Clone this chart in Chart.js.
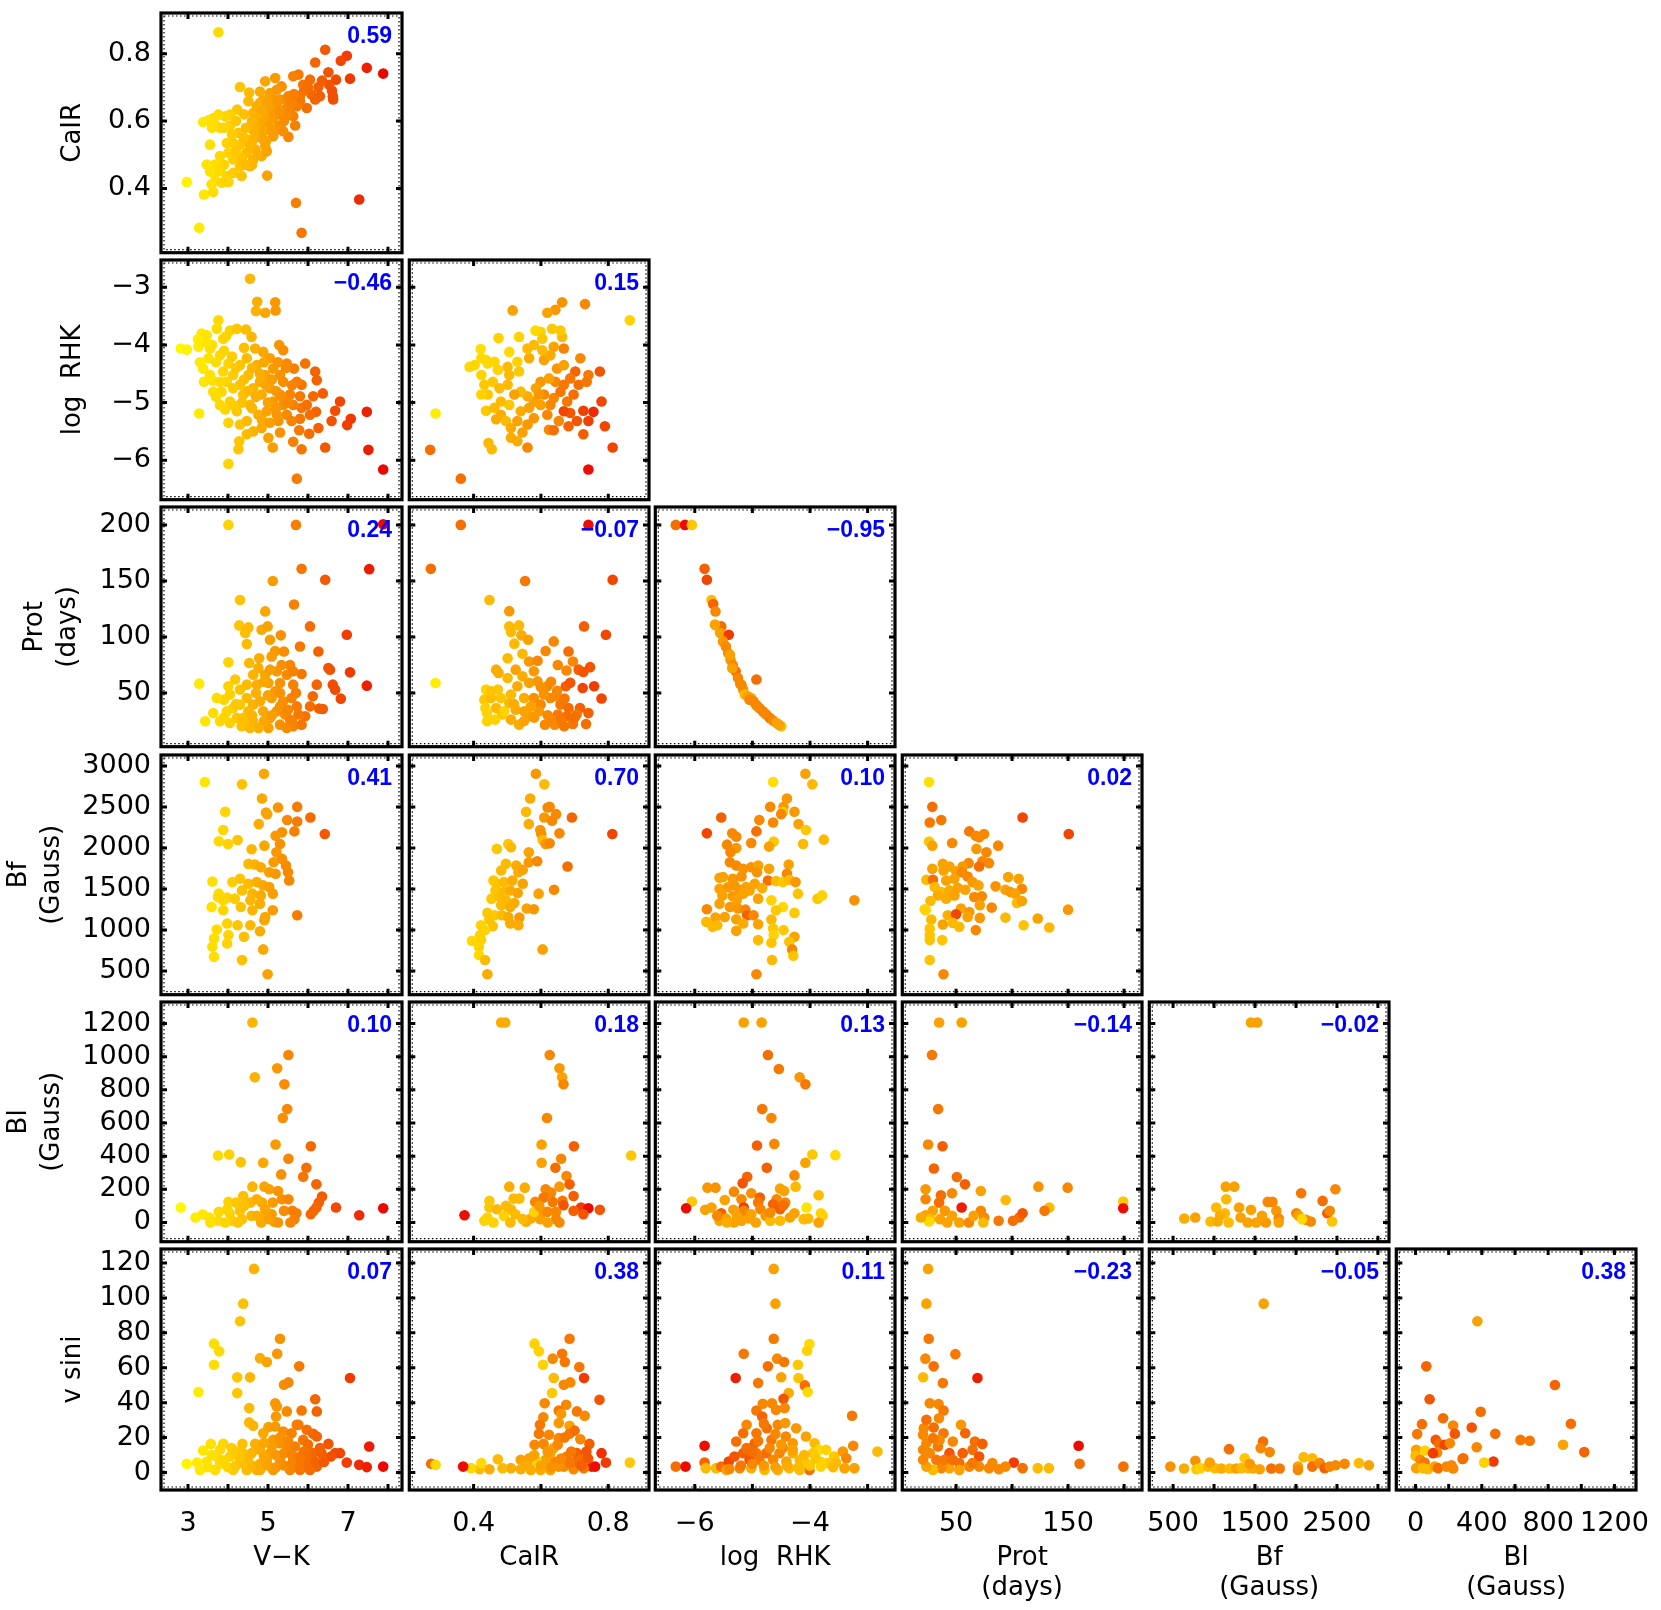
<!DOCTYPE html>
<html>
<head>
<meta charset="utf-8">
<script src="https://cdn.jsdelivr.net/npm/chart.js@4.4.1/dist/chart.umd.min.js"></script>
<style>
  body { margin: 0; background: #fff; }
  #wrap { position: relative; width: 1661px; height: 1610px; overflow: hidden; }
  #wrap canvas { position: absolute; }
</style>
</head>
<body>
<div id="wrap"></div>
<script>
// Axis tick positions (frame marks) and labelled ticks
const vkTicks = [3, 4, 5, 6, 7, 8];
const vkLabels = [3, 5, 7];
const cairTicks = [0.4, 0.6, 0.8];
const cairXLabels = [0.4, 0.8];
const cairYLabels = [0.4, 0.6, 0.8];
const rhkTicks = [-6, -5, -4, -3];
const rhkXLabels = [-6, -4];
const rhkYLabels = [-6, -5, -4, -3];
const protTicks = [50, 100, 150, 200];
const protXLabels = [50, 150];
const protYLabels = [50, 100, 150, 200];
const bfTicks = [500, 1000, 1500, 2000, 2500, 3000];
const bfXLabels = [500, 1500, 2500];
const bfYLabels = [500, 1000, 1500, 2000, 2500, 3000];
const blTicks = [0, 200, 400, 600, 800, 1000, 1200];
const blXLabels = [0, 400, 800, 1200];
const blYLabels = [0, 200, 400, 600, 800, 1000, 1200];
const vsiniTicks = [0, 20, 40, 60, 80, 100, 120];

// Correlation coefficients, one row per panel row
const coefRows = [
  ['0.59'],
  ['\u22120.46', '0.15'],
  ['0.24', '\u22120.07', '\u22120.95'],
  ['0.41', '0.70', '0.10', '0.02'],
  ['0.10', '0.18', '0.13', '\u22120.14', '\u22120.02'],
  ['0.07', '0.38', '0.11', '\u22120.23', '\u22120.05', '0.38']
];

// Points: [x, y] when x is V-K (colour = V-K), else [x, y, colour V-K]
const vk_cair = [[3.76,0.864],[2.97,0.419],[3.28,0.283],[3.40,0.382],[4.98,0.438],[5.70,0.357],[5.84,0.268],[7.28,0.367],[6.43,0.812],[7.47,0.758],[7.88,0.741],[6.97,0.794],[6.82,0.779],[7.05,0.726],[6.70,0.723],[6.51,0.745],[6.18,0.774],[6.62,0.674],[6.63,0.664],[6.53,0.708],[6.26,0.701],[6.09,0.679],[6.18,0.664],[5.88,0.708],[5.76,0.738],[5.63,0.733],[5.97,0.639],[5.80,0.659],[5.63,0.614],[5.68,0.587],[5.51,0.553],[5.18,0.728],[4.93,0.718],[4.30,0.701],[4.53,0.685],[4.80,0.688],[5.05,0.683],[5.34,0.703],[5.43,0.664],[5.22,0.644],[4.80,0.654],[4.63,0.624],[4.51,0.659],[4.23,0.634],[4.05,0.619],[3.93,0.614],[3.76,0.619],[3.63,0.609],[3.51,0.602],[3.38,0.597],[3.68,0.590],[3.80,0.580],[4.05,0.587],[4.26,0.565],[3.97,0.535],[3.55,0.530],[4.30,0.530],[4.57,0.580],[4.78,0.555],[4.97,0.580],[5.13,0.604],[5.30,0.585],[5.13,0.555],[4.93,0.525],[4.68,0.516],[4.47,0.506],[4.63,0.486],[4.55,0.466],[4.30,0.466],[4.13,0.486],[4.01,0.506],[3.80,0.496],[3.68,0.471],[3.47,0.471],[3.63,0.446],[3.80,0.456],[3.97,0.437],[4.13,0.446],[4.34,0.437],[3.68,0.422],[3.85,0.417],[4.01,0.419],[3.59,0.412],[3.63,0.389],[4.84,0.496],[4.97,0.510],[4.88,0.545],[5.05,0.634],[5.30,0.664],[5.51,0.674],[5.47,0.639],[5.34,0.619],[4.97,0.614],[4.72,0.604],[4.47,0.545],[4.63,0.545],[4.13,0.535],[5.22,0.575],[5.38,0.570],[5.55,0.624],[5.72,0.644],[5.80,0.674],[6.30,0.674],[6.05,0.723],[5.13,0.664],[4.88,0.664],[4.72,0.644],[5.22,0.693],[4.60,0.600],[4.75,0.580],[4.90,0.600],[5.05,0.590],[5.15,0.620],[4.85,0.630],[4.65,0.570],[4.45,0.580],[4.40,0.550],[4.55,0.530],[4.75,0.500],[4.90,0.570],[5.00,0.655],[5.25,0.660],[5.40,0.600],[5.45,0.615],[5.60,0.655],[5.65,0.680],[4.40,0.620],[4.20,0.600],[4.10,0.560],[4.35,0.490],[4.20,0.510],[3.90,0.470],[3.75,0.450],[3.55,0.450],[3.90,0.580],[3.60,0.580],[5.90,0.690],[6.00,0.700],[6.35,0.720],[6.60,0.690],[5.30,0.630],[5.10,0.570],[4.95,0.540],[4.60,0.470],[4.45,0.470]];

const vk_rhk = [[4.55,-2.85],[4.73,-3.25],[4.70,-3.41],[4.93,-3.44],[5.18,-3.26],[5.19,-3.40],[2.82,-4.06],[2.97,-4.08],[3.28,-5.19],[4.01,-6.06],[5.72,-6.32],[7.88,-6.16],[7.51,-5.82],[7.47,-5.16],[7.07,-5.28],[6.98,-5.39],[6.80,-4.98],[6.68,-5.14],[6.59,-5.32],[6.43,-5.78],[6.26,-5.44],[6.03,-5.54],[6.20,-5.16],[6.37,-4.84],[6.13,-4.89],[6.22,-4.61],[6.18,-4.46],[5.93,-4.32],[5.84,-4.69],[5.65,-4.41],[5.72,-4.64],[5.80,-4.89],[5.84,-5.09],[5.80,-5.28],[5.78,-5.48],[5.63,-5.68],[5.84,-5.81],[5.12,-5.78],[5.28,-4.00],[5.38,-4.09],[5.47,-4.32],[5.30,-4.52],[5.55,-4.86],[5.38,-5.04],[5.26,-5.32],[5.30,-5.52],[5.01,-5.61],[4.84,-5.44],[4.76,-5.21],[4.68,-4.06],[4.88,-4.12],[5.05,-4.23],[5.13,-4.41],[4.93,-4.52],[4.72,-4.35],[4.47,-4.23],[4.30,-4.35],[4.51,-4.52],[4.63,-4.75],[4.84,-4.86],[5.05,-4.75],[5.13,-4.98],[4.97,-5.15],[4.55,-5.04],[4.38,-4.86],[4.30,-4.69],[4.13,-4.52],[3.97,-4.64],[3.84,-4.81],[4.05,-4.98],[4.22,-5.15],[4.30,-5.38],[4.47,-5.32],[4.63,-5.50],[4.47,-5.55],[4.28,-5.67],[4.26,-5.81],[4.01,-5.35],[3.93,-5.12],[3.80,-5.04],[3.63,-4.81],[3.40,-4.64],[3.62,-4.62],[3.38,-4.41],[3.51,-4.23],[3.26,-4.03],[3.34,-3.80],[3.47,-3.83],[3.76,-3.57],[3.72,-3.72],[3.88,-3.89],[4.05,-3.75],[4.22,-3.72],[4.45,-3.73],[4.59,-3.86],[3.55,-4.06],[3.80,-4.18],[4.01,-4.32],[3.88,-4.46],[3.55,-4.52],[3.80,-4.64],[5.47,-5.21],[5.59,-5.32],[6.05,-5.21],[5.97,-5.04],[5.63,-5.04],[5.30,-4.86],[5.38,-4.64],[5.22,-5.21],[4.80,-4.64],[4.13,-4.75],[4.60,-4.40],[4.80,-4.50],[4.95,-4.70],[5.10,-4.60],[5.20,-4.80],[5.00,-5.00],[4.70,-4.90],[4.50,-4.80],[4.40,-4.60],[4.60,-5.10],[4.85,-5.30],[5.05,-5.35],[5.20,-5.10],[5.35,-4.90],[5.45,-4.40],[5.50,-5.00],[5.60,-4.70],[4.20,-4.40],[4.10,-4.20],[3.90,-4.10],[3.70,-4.30],[3.60,-4.00],[3.45,-3.95],[3.70,-4.90],[4.35,-5.00],[4.15,-5.05],[4.90,-4.30],[5.25,-4.30],[3.95,-3.85],[4.40,-4.05],[3.30,-4.30],[3.25,-3.90]];

const cair_rhk = [[0.864,-3.57,4.0],[0.731,-3.29,5.5],[0.663,-3.26,5.3],[0.643,-3.39,5.2],[0.619,-3.44,5.0],[0.516,-3.40,5.0],[0.421,-4.07,3.6],[0.287,-5.19,3.2],[0.271,-5.82,6.0],[0.362,-6.32,6.0],[0.741,-6.16,7.8],[0.813,-5.78,6.8],[0.790,-5.41,6.8],[0.780,-4.98,6.8],[0.775,-4.46,6.5],[0.756,-5.16,7.3],[0.726,-5.14,6.9],[0.741,-5.32,6.9],[0.726,-5.55,6.3],[0.707,-5.32,6.5],[0.682,-5.41,6.2],[0.687,-5.18,6.5],[0.668,-5.15,6.8],[0.653,-5.32,5.5],[0.624,-5.47,5.5],[0.638,-5.48,6.0],[0.678,-4.98,5.8],[0.697,-4.86,6.0],[0.712,-4.69,6.0],[0.736,-4.64,5.8],[0.741,-4.52,5.8],[0.717,-4.23,5.5],[0.702,-4.46,6.2],[0.687,-4.58,5.8],[0.668,-4.06,5.6],[0.638,-4.03,5.0],[0.663,-3.86,4.5],[0.658,-3.75,4.2],[0.633,-3.72,4.2],[0.599,-3.77,4.0],[0.584,-3.75,3.8],[0.604,-3.89,4.2],[0.579,-4.00,4.5],[0.560,-4.06,4.5],[0.565,-4.23,4.8],[0.604,-4.09,4.5],[0.609,-4.26,5.0],[0.628,-4.18,4.8],[0.648,-4.41,5.2],[0.668,-4.35,5.0],[0.643,-4.64,5.5],[0.624,-4.58,5.0],[0.599,-4.64,5.2],[0.585,-4.75,5.0],[0.609,-4.86,5.5],[0.638,-4.92,5.5],[0.658,-4.81,5.8],[0.668,-4.69,5.8],[0.628,-5.04,5.5],[0.599,-5.04,5.0],[0.579,-4.98,5.0],[0.560,-4.89,4.8],[0.540,-4.81,4.5],[0.521,-4.86,5.0],[0.506,-5.04,4.2],[0.501,-4.69,4.5],[0.506,-4.52,4.5],[0.501,-4.38,4.5],[0.535,-4.46,4.2],[0.530,-4.29,4.0],[0.506,-4.12,3.8],[0.535,-3.86,4.0],[0.474,-3.88,4.0],[0.423,-4.23,3.8],[0.442,-4.32,3.8],[0.388,-4.38,3.8],[0.403,-4.35,3.9],[0.437,-4.26,3.8],[0.462,-4.29,3.9],[0.472,-4.43,4.0],[0.423,-4.52,4.0],[0.432,-4.69,4.2],[0.457,-4.64,4.2],[0.477,-4.75,4.5],[0.442,-4.86,4.2],[0.423,-4.86,4.0],[0.437,-5.14,4.2],[0.462,-5.09,4.5],[0.481,-4.98,4.5],[0.481,-5.21,4.8],[0.467,-5.29,4.8],[0.496,-5.32,4.5],[0.511,-5.44,4.8],[0.530,-5.32,5.0],[0.540,-5.15,4.8],[0.565,-5.09,5.0],[0.579,-5.27,5.2],[0.560,-5.38,5.2],[0.545,-5.52,5.0],[0.511,-5.61,4.8],[0.530,-5.67,4.8],[0.444,-5.70,4.5],[0.454,-5.81,4.5],[0.560,-5.78,5.5],[0.594,-4.86,5.2],[0.619,-5.21,5.5]];

const vk_prot = [[4.01,200],[5.70,200],[7.88,200.6],[7.53,160.5],[5.84,160.8],[6.43,151],[5.12,150],[4.30,133],[5.65,129],[4.93,122.8],[6.05,109.4],[4.28,110.3],[4.51,108.5],[4.43,103.4],[6.97,102],[4.84,106.4],[4.99,109.4],[5.32,101.4],[5.05,97.5],[4.47,93.6],[5.80,91.4],[6.26,87],[5.18,87.5],[5.40,87],[4.01,77.3],[4.53,76.7],[4.78,81],[5.09,82.6],[6.51,72.2],[6.55,70.7],[7.05,68.4],[5.84,66.9],[5.55,75],[7.47,56.5],[6.62,57.4],[6.68,52.9],[6.82,44.9],[6.22,57.4],[6.12,47],[6.05,38],[6.28,36],[6.37,35.7],[5.93,29.2],[5.84,21.7],[5.63,20.3],[3.28,58.3],[3.43,24.7],[3.63,32],[3.80,24.7],[3.90,44],[4.01,56],[4.05,48.5],[4.13,36.6],[4.22,27.7],[4.34,20.3],[4.30,53],[4.47,45.5],[4.51,33.6],[4.63,24.7],[4.76,18.8],[4.88,33.6],[4.72,57.4],[4.63,66.3],[4.76,72.2],[4.93,66.3],[5.01,58.9],[5.09,45.5],[5.22,33.6],[5.01,18.8],[5.30,21.7],[5.43,30.7],[5.38,42.5],[5.30,58.9],[5.47,66.3],[5.63,57.4],[5.59,45.5],[5.72,38],[5.63,69.3],[5.34,75],[5.22,69.3],[5.05,70.8],[4.63,39.6],[4.30,39.6],[3.97,33.6],[4.05,23.2],[4.55,18.8],[4.80,42.5],[4.38,27.7],[5.05,27.7],[5.55,26.2],[5.47,18.8],[5.76,30.7],[5.18,51.4],[4.47,57.4],[4.18,62],[3.72,45.5],[4.40,25],[4.60,30],[4.90,25],[5.10,30],[5.30,38],[5.50,35],[5.00,48],[4.70,50],[4.20,40],[3.90,28],[5.60,25],[5.70,50],[4.90,60],[5.30,50]];

const cair_prot = [[0.362,200,6.0],[0.741,200,7.8],[0.273,160.8,6.0],[0.553,150,5.8],[0.813,151,6.8],[0.447,133,4.5],[0.506,123,5.2],[0.728,109.4,6.3],[0.793,102,6.8],[0.287,58.9,3.2],[0.506,109.4,4.5],[0.535,110.3,4.5],[0.511,104.3,4.5],[0.542,101.4,4.8],[0.562,97.5,5.0],[0.521,94,4.5],[0.638,96,5.5],[0.614,87.5,5.5],[0.682,87,6.0],[0.545,85,4.5],[0.501,81,4.5],[0.695,78,5.5],[0.650,75,5.5],[0.676,70,5.5],[0.712,70.8,6.3],[0.746,73,6.5],[0.726,68.7,6.5],[0.467,70.8,4.8],[0.474,67.8,4.8],[0.525,70.8,5.0],[0.565,78,5.2],[0.590,78.8,5.5],[0.579,69.3,5.2],[0.545,64.8,4.8],[0.501,63.3,4.5],[0.437,53,4.0],[0.472,53,4.2],[0.432,44,4.2],[0.452,45.5,4.5],[0.481,45.5,4.3],[0.511,48.5,4.5],[0.530,56,4.8],[0.550,45.5,4.8],[0.565,59,5.0],[0.590,60.3,5.2],[0.619,56,5.5],[0.648,52,5.5],[0.674,56,6.3],[0.687,59,6.5],[0.724,54.4,6.8],[0.758,56,7.0],[0.780,45,6.8],[0.579,45.5,5.3],[0.599,39.6,5.5],[0.628,45.5,5.5],[0.658,39.6,5.8],[0.682,36.6,6.0],[0.716,36.6,6.3],[0.741,32,6.3],[0.734,22.3,6.0],[0.706,30.7,5.8],[0.677,29.2,6.0],[0.650,30.7,5.8],[0.631,26.2,5.5],[0.612,21.7,5.5],[0.641,21.7,5.5],[0.669,20.3,5.8],[0.695,22.3,5.8],[0.570,29.2,5.0],[0.535,21.7,4.8],[0.511,26.2,4.8],[0.484,30.7,4.2],[0.464,26.2,4.0],[0.440,24.7,4.0],[0.440,32,4.0],[0.435,36.6,4.0],[0.467,36.6,4.5],[0.491,33.6,4.0],[0.506,41,4.5],[0.525,35,4.8],[0.550,33.6,5.0],[0.594,33.6,5.2],[0.609,48.5,5.3],[0.645,47,5.5],[0.452,51.4,4.3],[0.550,25,5.0],[0.580,28,5.2],[0.620,30,5.5],[0.660,26,5.8],[0.700,28,6.0],[0.520,40,4.8],[0.570,38,5.0],[0.600,55,5.3],[0.630,60,5.5],[0.670,45,5.8]];

const rhk_prot = [[-6.33,200,6.0],[-6.17,200,7.8],[-6.05,200,4.2],[-5.83,160.8,6.3],[-5.79,151,6.8],[-5.71,133,4.5],[-5.68,129.3,6.2],[-5.64,122.8,5.5],[-5.63,110.3,4.5],[-5.54,109.4,6.0],[-5.56,103.4,5.0],[-5.41,102,7.0],[-5.51,96,5.2],[-5.46,91.4,5.5],[-5.42,85.6,5.5],[-5.38,79.7,5.2],[-5.34,75,5.5],[-5.29,69.3,6.0],[-5.25,63.3,5.5],[-5.21,58,5.5],[-5.16,53,5.3],[-4.93,62,6.0],[-5.13,48.5,4.5],[-5.08,47,5.0],[-5.02,45.5,4.8],[-4.98,42.5,5.5],[-4.94,39.6,5.5],[-4.88,36.6,5.5],[-4.82,33.6,5.8],[-4.76,30.7,5.5],[-4.70,27.7,5.8],[-4.64,25.3,5.5],[-4.58,23.2,5.0],[-4.50,20.3,4.5],[-4.54,21.7,5.0],[-5.39,84,5.0],[-5.35,72,5.0],[-5.19,57.4,5.5],[-5.05,44,5.5],[-4.91,38,5.5],[-4.79,32,5.5],[-5.65,111,5.0]];

const vk_bf = [[3.42,2806],[4.35,2777],[4.90,2907],[4.85,2604],[3.93,2442],[4.98,2413],[4.95,2434],[5.25,2494],[5.73,2502],[6.06,2373],[5.73,2324],[5.48,2341],[4.77,2292],[5.66,2203],[5.35,2191],[5.19,2150],[6.42,2171],[3.88,2219],[3.77,2082],[4.00,2049],[4.24,2098],[4.91,2029],[4.59,1985],[5.30,2049],[5.21,1948],[5.35,1867],[5.14,1827],[5.45,1786],[5.50,1705],[5.53,1604],[4.51,1806],[4.67,1798],[4.82,1766],[5.03,1705],[5.19,1685],[3.61,1592],[4.11,1584],[4.30,1625],[4.51,1564],[4.72,1584],[4.88,1544],[5.03,1523],[3.77,1443],[3.75,1402],[3.98,1394],[4.17,1382],[4.35,1483],[4.61,1443],[4.82,1422],[5.12,1443],[4.56,1362],[3.88,1362],[3.59,1281],[3.88,1240],[4.32,1281],[4.61,1240],[4.80,1321],[5.12,1240],[5.73,1180],[4.93,1159],[3.98,1078],[4.24,1058],[4.56,1058],[4.91,1119],[3.72,1006],[4.01,937],[4.40,917],[4.80,985],[3.65,896],[3.61,795],[3.98,836],[3.65,674],[4.35,633],[4.88,763],[4.99,460]];

const cair_bf = [[0.585,2907,5.2],[0.610,2777,4.5],[0.568,2604,4.8],[0.620,2494,5.5],[0.626,2502,5.5],[0.556,2442,4.5],[0.645,2413,5.5],[0.610,2373,5.2],[0.692,2373,6.2],[0.633,2332,5.5],[0.598,2219,5.2],[0.564,2292,4.8],[0.655,2179,5.5],[0.601,2171,5.3],[0.812,2171,6.8],[0.605,2098,4.5],[0.614,2049,5.2],[0.626,2057,5.5],[0.469,1989,4.2],[0.503,2049,4.2],[0.511,2009,4.5],[0.564,1948,5.0],[0.564,1827,5.2],[0.589,1839,5.5],[0.679,1774,6.0],[0.496,1807,4.5],[0.527,1786,4.8],[0.482,1726,4.5],[0.533,1705,4.8],[0.546,1734,5.0],[0.459,1604,4.2],[0.469,1564,4.3],[0.490,1584,4.5],[0.515,1604,4.8],[0.546,1564,5.0],[0.465,1483,4.3],[0.490,1463,4.5],[0.509,1483,4.8],[0.531,1451,5.0],[0.593,1443,5.0],[0.639,1491,5.5],[0.453,1382,4.2],[0.478,1402,4.5],[0.496,1362,4.5],[0.521,1329,4.8],[0.482,1301,4.5],[0.509,1281,4.8],[0.558,1261,5.0],[0.579,1252,5.2],[0.441,1208,4.2],[0.462,1180,4.2],[0.484,1180,4.5],[0.503,1159,4.8],[0.536,1151,5.2],[0.447,1127,4.3],[0.422,1058,4.0],[0.457,1046,4.3],[0.509,1078,4.8],[0.533,1058,4.8],[0.434,998,4.0],[0.419,937,4.0],[0.395,868,3.8],[0.409,856,3.9],[0.422,876,4.0],[0.416,795,3.9],[0.416,694,3.8],[0.434,633,4.5],[0.441,460,4.8],[0.605,763,5.0]];

const rhk_bf = [[-4.08,2907,5.0],[-3.96,2777,4.5],[-4.64,2806,3.6],[-4.40,2604,5.2],[-4.69,2502,5.5],[-4.46,2502,5.2],[-4.47,2442,4.2],[-4.27,2442,5.2],[-4.50,2413,5.5],[-5.54,2373,6.3],[-4.88,2341,5.5],[-4.64,2312,5.5],[-4.20,2292,5.0],[-4.93,2203,6.0],[-4.07,2219,4.2],[-5.79,2179,6.8],[-5.35,2179,5.5],[-5.28,2138,5.5],[-5.02,2061,5.5],[-4.63,2078,4.2],[-4.12,2049,4.5],[-3.76,2102,4.5],[-4.71,2017,5.0],[-5.44,2041,5.5],[-5.28,2001,5.2],[-5.38,1948,5.5],[-5.39,1827,5.5],[-5.28,1786,5.5],[-5.16,1746,5.3],[-5.02,1766,5.3],[-4.90,1786,5.0],[-4.92,1705,5.3],[-4.71,1746,5.0],[-4.37,1798,5.0],[-4.40,1685,5.5],[-5.57,1637,5.0],[-5.51,1645,5.0],[-5.34,1625,5.2],[-5.19,1653,5.3],[-4.73,1604,6.0],[-4.59,1596,4.5],[-4.47,1584,4.2],[-4.36,1612,4.5],[-4.25,1584,5.2],[-5.57,1503,5.0],[-5.42,1523,5.2],[-5.31,1544,5.2],[-5.22,1491,5.2],[-5.11,1523,5.0],[-4.96,1564,5.0],[-4.83,1511,4.8],[-5.52,1422,5.0],[-5.34,1410,5.2],[-5.16,1443,5.0],[-5.05,1483,5.0],[-4.90,1382,5.0],[-4.21,1443,4.3],[-3.87,1382,4.2],[-3.79,1422,4.0],[-3.23,1362,5.3],[-5.57,1321,5.0],[-5.27,1370,5.0],[-5.79,1252,5.5],[-5.39,1281,5.2],[-5.25,1261,5.2],[-5.12,1248,5.5],[-5.09,1180,6.3],[-4.98,1180,5.5],[-4.67,1362,4.0],[-4.47,1281,3.8],[-4.59,1240,4.2],[-4.27,1208,4.2],[-5.64,1151,5.0],[-5.48,1159,5.0],[-5.80,1099,4.5],[-5.69,1038,4.5],[-5.61,1058,4.5],[-5.28,1131,5.0],[-5.16,1078,4.8],[-4.90,1070,5.0],[-4.67,1127,4.5],[-5.28,989,5.0],[-4.64,1018,4.2],[-4.46,998,4.2],[-4.27,917,5.0],[-4.63,937,4.0],[-4.90,876,4.5],[-4.67,844,4.3],[-4.36,856,4.3],[-4.31,763,5.5],[-4.29,686,4.3],[-4.66,633,4.5],[-4.93,460,5.5]];

const prot_bf = [[25.9,2806,3.6],[28.8,2502,6.0],[26.5,2312,5.8],[36.8,2341,5.8],[109.4,2373,6.8],[150.6,2171,6.8],[25.9,2078,4.2],[28.8,2029,5.0],[46.5,2061,5.5],[61.8,2203,5.8],[67.6,2150,5.5],[75,2171,5.5],[70.6,2130,5.5],[68.2,1989,5.2],[87.6,2029,5.5],[77.1,1948,5.5],[73.5,1839,5.5],[79.4,1815,5.5],[70.6,1774,6.0],[61.2,1815,5.5],[55.9,1774,5.2],[38.2,1807,5.0],[44.1,1774,5.0],[28.8,1746,5.0],[38.8,1726,5.0],[50,1717,5.0],[55.3,1705,5.5],[60.3,1653,5.5],[23.5,1612,4.5],[29.4,1612,6.0],[41.2,1604,5.0],[48.5,1625,5.0],[64.7,1584,5.2],[70,1544,5.0],[96.5,1645,5.0],[105.9,1625,5.0],[85.3,1532,5.3],[94.1,1491,5.0],[108.8,1503,5.5],[30.9,1523,4.5],[36.8,1463,4.5],[44.1,1483,4.8],[51.5,1515,5.0],[58.2,1491,5.0],[33.8,1422,4.8],[41.2,1382,4.8],[48.5,1422,5.0],[66.2,1402,5.5],[73,1410,5.5],[98.5,1463,5.2],[102.9,1443,5.0],[104.4,1329,4.5],[108.8,1354,5.0],[27.1,1354,4.5],[22.9,1240,4.0],[71.2,1301,5.0],[81.8,1273,5.5],[54.4,1261,5.0],[61.8,1220,5.2],[42.6,1180,4.8],[50,1192,6.8],[60.3,1159,5.0],[150,1248,5.2],[27.9,1127,4.5],[38.2,1066,5.0],[47.1,1086,4.5],[52.9,1038,4.5],[71.2,1147,5.2],[94.1,1151,4.5],[122.9,1139,5.0],[67.6,998,5.5],[110.3,1058,4.3],[133.2,1030,4.5],[26.5,1018,4.3],[26.5,937,4.3],[26.5,876,4.3],[37.6,876,4.3],[26.5,633,4.3],[38.8,460,5.5],[22,1252,4.0]];

const vk_bl = [[2.82,90],[3.19,30],[3.37,48],[3.53,30],[3.75,404],[4.03,410],[3.77,64],[3.75,10],[4.01,124],[4.04,56],[4.32,364],[4.11,10],[4.30,70],[4.38,160],[4.35,20],[4.61,1206],[4.67,876],[4.61,216],[4.56,120],[4.59,40],[4.88,360],[4.91,216],[4.85,120],[4.88,40],[5.03,200],[5.12,120],[5.09,50],[5.19,470],[5.23,930],[5.16,4],[5.25,190],[5.37,630],[5.41,834],[5.48,684],[5.51,1010],[5.51,384],[5.35,140],[5.51,140],[5.33,290],[5.40,70],[5.61,70],[5.66,20],[5.71,56],[5.88,276],[5.96,330],[6.07,460],[6.21,230],[6.35,156],[6.27,120],[6.21,90],[6.14,70],[6.07,50],[6.70,90],[7.28,44],[7.88,86],[4.72,140],[4.93,80],[4.20,120],[3.98,80],[4.40,100],[4.83,0],[5.25,0],[5.56,0],[3.56,0],[3.93,0],[4.25,0],[4.72,40],[5.03,20]];

const cair_bl = [[0.482,1206,4.8],[0.494,1206,4.8],[0.626,1010,5.5],[0.655,930,5.2],[0.663,876,5.0],[0.667,834,5.5],[0.618,630,5.5],[0.602,470,5.0],[0.698,460,6.3],[0.868,404,4.2],[0.602,360,5.0],[0.660,384,5.5],[0.643,330,6.0],[0.676,280,5.5],[0.685,230,6.3],[0.655,216,5.2],[0.506,216,4.8],[0.552,210,4.8],[0.614,200,5.5],[0.630,180,5.5],[0.697,160,6.3],[0.519,144,4.5],[0.536,144,4.5],[0.583,124,5.5],[0.608,150,5.8],[0.635,124,5.8],[0.664,130,5.8],[0.447,130,4.2],[0.667,104,6.5],[0.719,90,7.0],[0.741,86,7.8],[0.775,76,6.5],[0.373,44,7.8],[0.447,90,4.2],[0.469,80,4.5],[0.511,80,4.5],[0.490,40,4.0],[0.441,30,4.0],[0.459,0,4.0],[0.432,10,4.0],[0.524,50,4.5],[0.556,4,4.8],[0.570,24,4.8],[0.598,20,5.0],[0.580,64,4.0],[0.608,64,5.2],[0.620,64,5.5],[0.645,64,5.5],[0.645,20,5.5],[0.655,0,5.5],[0.697,70,6.3],[0.726,50,6.5],[0.595,100,5.2],[0.496,100,4.5],[0.546,20,4.5],[0.509,0,4.5],[0.620,0,5.0]];

const rhk_bl = [[-5.15,1206,5.0],[-4.84,1206,5.0],[-4.73,1010,6.0],[-4.54,926,5.8],[-4.18,876,5.2],[-4.08,834,5.8],[-4.83,684,5.8],[-4.67,630,5.5],[-4.92,464,6.3],[-4.62,474,5.5],[-4.75,330,6.3],[-3.96,410,4.2],[-3.56,406,3.8],[-4.08,360,5.0],[-4.27,284,5.5],[-5.09,276,6.2],[-5.17,236,6.5],[-5.78,210,5.2],[-5.64,210,5.3],[-5.32,186,5.5],[-5.02,176,5.3],[-4.52,204,5.0],[-4.45,190,5.0],[-4.25,216,4.5],[-3.85,164,4.5],[-5.48,136,5.0],[-5.19,140,5.5],[-4.87,150,6.3],[-4.58,140,5.5],[-4.43,120,5.5],[-6.05,126,4.2],[-6.15,86,7.8],[-5.82,76,5.0],[-5.71,90,5.0],[-5.54,56,6.3],[-5.33,76,5.0],[-5.15,90,7.0],[-5.15,70,5.5],[-4.90,120,5.8],[-4.86,80,5.5],[-4.64,110,6.2],[-4.52,80,6.3],[-4.46,104,6.0],[-4.06,90,3.5],[-3.81,56,4.0],[-3.78,40,4.0],[-4.03,24,4.5],[-3.85,0,5.0],[-5.57,10,5.0],[-5.46,24,5.0],[-5.32,0,5.0],[-5.19,10,5.0],[-5.06,24,5.0],[-4.94,0,5.0],[-4.77,40,5.2],[-4.69,10,4.5],[-4.52,10,4.5],[-4.35,30,5.0],[-4.27,56,5.0],[-5.61,40,5.5],[-5.44,0,4.8],[-5.02,50,5.0],[-4.69,60,5.5],[-4.11,20,4.5],[-5.27,40,5.0]];

const prot_bl = [[34.9,1206,5.0],[55,1206,5.0],[28.5,1010,5.8],[34,684,5.8],[25,470,5.5],[37.9,460,6.3],[30.2,326,6.2],[50.7,274,6.0],[58,230,6.3],[22.8,200,5.2],[36.5,164,6.0],[46.4,176,5.5],[72.1,190,5.0],[123.5,216,5.3],[149.6,210,5.5],[22.8,140,5.5],[34.9,120,6.0],[94.3,136,4.5],[55,90,7.5],[133.3,90,4.5],[129,70,5.8],[199.2,126,4.2],[199.2,86,7.8],[22.8,44,5.0],[29.2,70,5.0],[40,70,5.2],[46.4,40,5.0],[27.1,20,4.5],[42.2,0,5.0],[52.9,0,5.0],[61.5,0,5.5],[72.1,70,5.5],[75.1,30,5.5],[74.3,0,4.5],[88,10,5.8],[100.8,10,6.0],[106.4,30,6.0],[109.4,56,6.5],[25.9,6,3.8],[18.6,30,4.8],[65.7,40,5.0],[35.7,20,5.0]];

const bf_bl = [[1451,1206,5.0],[1527,1206,5.0],[1143,216,5.0],[1247,216,5.0],[2481,200,5.5],[2063,176,5.8],[1149,140,4.5],[1655,124,5.5],[1713,124,5.5],[2325,130,6.0],[1026,90,4.5],[1306,90,5.0],[1451,76,5.0],[1760,70,5.2],[2004,56,5.5],[2383,56,6.5],[2412,70,5.5],[637,24,4.8],[771,30,5.0],[957,6,4.5],[1044,6,4.8],[1131,56,4.5],[1178,0,4.5],[1324,30,5.0],[1411,0,5.0],[1515,0,5.0],[1632,0,5.2],[1789,24,5.5],[1789,0,5.0],[1585,40,5.0],[2033,40,5.0],[2121,16,5.5],[2180,6,5.5],[2074,20,3.8],[2440,6,4.3],[1073,40,4.8]];

const vk_vsini = [[4.65,116.6],[4.38,96.7],[4.30,86.6],[3.65,73.8],[3.78,69.4],[3.65,61.7],[3.26,46.1],[4.23,54.5],[4.55,54.5],[4.23,45.5],[5.30,76.6],[5.23,68.0],[4.80,65.5],[4.97,63.3],[5.78,60.8],[7.05,54.1],[5.40,50.3],[5.51,51.6],[4.53,36.9],[4.53,28.7],[4.63,26.8],[5.18,39.7],[5.22,37.8],[5.20,32.1],[5.47,35.0],[5.84,35.5],[6.22,35.0],[6.18,42.0],[5.76,27.3],[5.97,24.5],[6.13,22.2],[6.22,20.6],[6.51,16.4],[6.68,11.1],[6.80,11.1],[6.57,9.2],[6.97,5.7],[7.53,14.9],[7.28,4.4],[7.47,3.1],[7.88,3.4],[2.97,5.0],[3.23,5.7],[3.38,12.6],[3.57,16.4],[3.88,16.4],[4.09,14.0],[4.36,16.4],[4.68,16.4],[4.88,22.5],[5.01,26.0],[5.18,26.4],[5.38,23.5],[5.59,22.5],[5.72,27.3],[5.88,18.7],[6.13,11.1],[6.34,11.1],[6.01,7.3],[6.22,3.4],[3.47,6.3],[3.68,1.5],[3.88,5.4],[4.13,1.5],[4.30,7.3],[4.47,1.5],[4.72,1.5],[4.59,11.1],[4.80,13.0],[4.97,7.3],[5.13,1.5],[5.30,7.3],[5.47,13.0],[5.63,7.3],[5.80,1.5],[5.68,14.9],[5.30,16.8],[5.13,18.7],[5.05,11.1],[5.55,1.5],[5.97,13.0],[6.05,1.5],[3.72,9.2],[4.05,9.2],[4.38,11.1],[4.80,1.5],[3.30,1.5],[3.80,13.0],[3.50,3],[3.80,5],[4.00,3],[4.20,4],[4.40,5],[4.60,4],[4.80,5],[5.00,4],[5.20,3],[5.40,4],[5.60,5],[5.80,4],[6.00,5],[6.20,6],[6.40,6],[3.60,10],[4.20,12],[4.50,8],[4.90,9],[5.20,10],[5.40,11],[5.60,10],[5.80,9],[5.30,20],[5.50,18],[5.10,15],[4.90,17],[4.30,9],[3.90,7],[6.00,16],[6.30,14],[5.90,12]];

const cair_vsini = [[0.685,76.6,5.8],[0.581,73.8,4.0],[0.594,69.4,4.0],[0.663,68.0,5.8],[0.635,65.2,5.5],[0.671,63.3,5.8],[0.606,61.7,4.0],[0.714,60.4,5.8],[0.728,54.1,7.0],[0.638,54.1,4.5],[0.668,50.3,5.5],[0.687,51.6,5.5],[0.633,45.5,4.2],[0.774,41.7,6.5],[0.611,39.7,5.5],[0.675,38.8,5.5],[0.607,31.7,5.5],[0.653,35.5,5.8],[0.707,35.0,5.8],[0.730,32.5,5.5],[0.660,33.6,5.2],[0.597,27.3,5.8],[0.653,28.3,5.2],[0.685,26.8,5.0],[0.594,22.2,5.8],[0.624,21.6,5.5],[0.685,22.2,5.8],[0.717,19.1,5.5],[0.744,16.4,6.3],[0.581,15.9,5.5],[0.608,16.4,5.5],[0.638,14.0,5.0],[0.707,11.1,6.3],[0.735,12.0,6.5],[0.780,11.1,7.2],[0.793,5.7,7.0],[0.864,5.7,4.2],[0.751,3.4,7.5],[0.761,3.4,7.8],[0.727,2.5,5.8],[0.697,1.9,5.5],[0.668,3.4,5.5],[0.638,6.3,5.5],[0.614,7.3,5.0],[0.589,6.3,4.0],[0.565,8.2,5.0],[0.540,7.3,5.0],[0.653,19.7,5.5],[0.677,9.2,5.8],[0.702,6.3,6.0],[0.628,1.5,5.0],[0.599,1.5,4.8],[0.570,1.5,4.8],[0.540,1.9,4.8],[0.511,2.5,4.8],[0.486,2.5,4.5],[0.472,7.6,4.5],[0.447,1.9,4.8],[0.418,1.9,4.5],[0.423,5.4,3.8],[0.393,2.5,3.8],[0.369,3.4,7.8],[0.274,5.0,6.0],[0.287,4.4,3.8],[0.653,3.4,5.3],[0.687,5.4,5.8],[0.717,7.3,6.0],[0.628,11.1,5.0],[0.600,4,5.0],[0.630,3,5.3],[0.660,8,5.5],[0.690,12,5.8],[0.720,4,6.3],[0.740,8,6.5],[0.620,12,5.2],[0.650,16,5.5],[0.670,20,5.8],[0.700,24,6.0],[0.580,10,5.0],[0.560,4,4.8]];

const rhk_vsini = [[-4.63,116.6,5.0],[-4.60,96.7,5.0],[-4.63,76.6,5.8],[-5.15,68.0,5.8],[-4.01,73.6,3.8],[-4.05,69.7,4.0],[-4.57,65.2,5.5],[-4.45,63.3,5.8],[-4.73,60.8,6.0],[-4.21,61.7,4.2],[-5.29,54.1,7.5],[-4.50,54.6,5.0],[-4.20,54.1,4.3],[-4.90,51.2,5.8],[-4.09,49.9,6.0],[-4.04,46.1,3.8],[-4.37,45.5,4.8],[-4.46,42.2,6.5],[-4.82,39.4,5.5],[-4.66,39.7,5.5],[-4.44,36.9,5.5],[-4.93,35.5,5.8],[-4.83,32.1,6.2],[-4.59,35.9,5.5],[-3.27,32.5,5.8],[-5.10,27.3,5.5],[-4.75,25.4,6.0],[-4.56,27.3,5.5],[-4.43,28.3,5.2],[-4.24,25.4,5.2],[-5.83,15.3,7.8],[-5.28,17.8,6.0],[-5.16,22.5,6.0],[-4.93,22.5,5.8],[-4.96,16.8,6.2],[-4.67,18.7,5.8],[-4.42,20.6,5.5],[-4.30,16.8,5.2],[-4.07,20.6,5.0],[-3.92,16.8,4.5],[-3.84,13.0,3.8],[-3.58,9.2,4.2],[-3.43,12.0,5.2],[-3.25,15.3,5.5],[-3.37,8.2,5.5],[-2.83,12.0,4.5],[-3.23,2.5,5.0],[-3.40,2.5,5.0],[-3.55,5.7,4.5],[-3.69,5.4,4.2],[-6.33,3.4,6.0],[-6.16,3.4,7.8],[-5.83,5.7,6.2],[-5.81,2.5,4.5],[-5.63,2.5,4.5],[-5.54,3.4,6.0],[-5.41,6.3,6.8],[-5.31,9.2,6.5],[-5.16,11.1,6.3],[-5.05,7.3,6.5],[-5.22,2.5,5.5],[-5.02,2.5,4.8],[-4.88,7.3,5.8],[-4.76,11.1,6.0],[-4.79,1.5,4.5],[-4.64,7.3,5.5],[-4.53,11.1,5.5],[-4.41,6.3,5.0],[-4.30,11.1,4.8],[-4.18,7.3,4.5],[-4.07,5.4,4.2],[-4.01,1.5,6.0],[-3.95,11.1,4.2],[-3.81,3.4,4.0],[-4.56,1.5,4.8],[-4.36,2.5,4.5],[-4.18,1.5,4.5],[-4.93,11.1,5.8],[-5.45,1.5,5.0],[-4.47,14.0,5.5],[-3.72,13.0,4.0],[-5.40,2,5.5],[-5.20,4,5.8],[-5.00,5,5.5],[-4.80,4,5.2],[-4.60,3,5.0],[-4.40,4,4.8],[-4.20,3,4.5],[-4.00,4,4.2],[-3.80,6,4.0],[-3.60,3,4.5],[-5.10,14,6.0],[-4.90,18,5.8],[-4.70,14,5.5],[-4.50,16,5.2],[-4.30,13,5.0],[-4.10,10,4.5],[-3.90,8,4.2],[-4.60,22,5.5],[-4.80,28,5.8],[-5.00,12,6.0]];

const prot_vsini = [[25,116.6,5.0],[23.5,96.7,5.0],[25.6,76.6,5.8],[22.6,65.2,5.5],[49.4,67.8,5.8],[30,60.8,6.0],[20.6,54.6,4.5],[69.1,54.1,7.5],[38.2,51.2,5.8],[26.5,39.7,5.5],[34.4,39.2,5.5],[38.8,35.5,5.8],[34.7,31.1,5.5],[54.4,27.3,5.2],[21.2,25.4,5.5],[30,25.8,6.0],[58.2,22.5,6.2],[20.6,21.6,5.5],[38.8,22.5,5.8],[47.1,17.8,5.5],[66.8,17.8,6.0],[73.5,16.4,6.3],[159.4,15.3,7.8],[23.5,16.8,5.5],[33.8,14.9,5.8],[44.1,11.1,6.5],[55.9,11.1,6.3],[64.7,13.0,6.0],[70.6,9.2,6.5],[101.5,5.7,7.0],[160.3,5.0,6.0],[199.4,3.4,6.0],[132.9,2.5,4.5],[122.9,2.5,4.5],[109.4,2.5,6.0],[88.2,1.9,5.5],[94.1,3.4,5.5],[79.4,2.5,5.5],[70.6,3.4,5.5],[61.8,3.4,5.5],[52.9,5.4,6.0],[44.1,2.5,5.0],[36.8,2.5,5.5],[29.4,1.5,4.5],[23.5,3.4,5.0],[20.6,7.3,5.5],[26.5,11.1,5.5],[32.4,7.3,5.8],[39.7,7.3,5.8],[47.1,7.3,6.0],[20.6,13.0,5.5],[35.3,18.7,5.5],[29.4,19.7,5.8],[64.7,5.4,5.8],[52.9,1.5,5.0],[82.4,5.4,5.5],[23.5,30.2,6.0]];

const bf_vsini = [[1606,96.7,5.0],[1183,13.4,6.0],[1598,17.8,6.0],[1569,14.0,5.5],[1679,11.7,5.5],[1374,8.2,4.2],[772,6.7,5.3],[467,3.4,5.3],[634,2.3,4.8],[785,1.9,4.2],[833,2.5,4.0],[927,3.4,4.5],[1008,2.5,4.5],[1089,2.3,4.8],[1191,2.3,4.5],[1272,2.3,5.0],[1333,2.5,4.5],[1415,2.5,4.5],[1476,2.3,4.8],[1557,1.9,5.0],[1699,2.3,6.0],[1801,2.3,5.8],[2024,3.4,5.0],[2024,1.5,5.5],[2093,8.8,4.5],[2199,8.2,4.5],[2199,3.4,6.0],[2289,5.4,5.5],[2350,2.5,6.3],[2411,3.4,5.5],[2484,4.2,5.5],[2593,5.0,5.5],[2768,5.4,4.5],[2890,4.2,5.0],[947,5.7,5.0],[1435,5.0,5.2]];

const bl_vsini = [[373,86.6,5.0],[65,60.8,6.2],[85,42.0,6.5],[841,50.1,6.2],[393,34.8,6.0],[166,31.1,6.0],[39,27.7,6.0],[227,26.9,5.5],[339,25.8,6.5],[481,22.2,6.0],[937,27.9,6.0],[10,22.0,5.8],[237,22.2,6.5],[633,18.7,5.8],[689,18.2,5.8],[890,15.9,5.0],[122,18.7,6.5],[142,16.4,6.0],[176,15.9,6.8],[207,16.8,5.5],[369,14.5,5.5],[1018,11.7,6.2],[4,13.0,5.0],[57,12.6,4.0],[130,11.5,5.5],[105,11.1,7.0],[284,7.8,6.2],[470,6.3,7.0],[414,5.7,4.0],[0,9.6,4.5],[28,7.3,5.5],[55,5.7,5.8],[4,2.5,5.0],[45,2.5,4.5],[75,1.9,4.5],[116,3.4,5.0],[136,2.5,6.0],[187,3.4,5.5],[217,4.2,5.5],[227,2.3,5.5],[288,8.2,6.0]];

// Panel grid: row r plots variable r+1 against column variable c
const panelData = [
  [vk_cair],
  [vk_rhk, cair_rhk],
  [vk_prot, cair_prot, rhk_prot],
  [vk_bf, cair_bf, rhk_bf, prot_bf],
  [vk_bl, cair_bl, rhk_bl, prot_bl, bf_bl],
  [vk_vsini, cair_vsini, rhk_vsini, prot_vsini, bf_vsini, bl_vsini]
];

const minus = v => String(v).replace('-', '\u2212');

// Axis descriptions per variable: V-K, CaIR, log RHK, Prot, Bf, Bl, v sini
const axes = [
  { min: 2.325, max: 8.35, ticks: vkTicks, xLabels: vkLabels, yLabels: [], title: 'V\u2212K', yPad: 57 },
  { min: 0.209, max: 0.921, ticks: cairTicks, xLabels: cairXLabels, yLabels: cairYLabels, title: 'CaIR', yPad: 57 },
  { min: -6.685, max: -2.525, ticks: rhkTicks, xLabels: rhkXLabels, yLabels: rhkYLabels, title: 'log  RHK', yPad: 57 },
  { min: 2, max: 216, ticks: protTicks, xLabels: protXLabels, yLabels: protYLabels, title: ['Prot', '(days)'], yPad: 19 },
  { min: 210, max: 3135, ticks: bfTicks, xLabels: bfXLabels, yLabels: bfYLabels, title: ['Bf', '(Gauss)'], yPad: 3 },
  { min: -116, max: 1330, ticks: blTicks, xLabels: blXLabels, yLabels: blYLabels, title: ['Bl', '(Gauss)'], yPad: 3 },
  { min: -10, max: 128, ticks: vsiniTicks, xLabels: [], yLabels: vsiniTicks, title: 'v sini', yPad: 57 }
];

// Yellow -> orange -> red, keyed on V-K
const colorStops = [[2.8, 255, 250, 0], [4.0, 255, 210, 0], [5.0, 250, 162, 0], [6.0, 245, 110, 0], [7.0, 240, 60, 0], [8.0, 235, 0, 0]];
function vkColor(c) {
  if (c <= colorStops[0][0]) return 'rgb(255,250,0)';
  for (let i = 1; i < colorStops.length; i++) {
    const a = colorStops[i - 1], b = colorStops[i];
    if (c <= b[0]) {
      const t = (c - a[0]) / (b[0] - a[0]);
      return 'rgb(' + [1, 2, 3].map(k => Math.round(a[k] + (b[k] - a[k]) * t)).join(',') + ')';
    }
  }
  return 'rgb(235,0,0)';
}

const colLeft = [161, 408, 654, 901, 1148, 1395];
const rowTop = [13, 260, 507, 755, 1002, 1249];
const panelSize = 241;
const font = '"DejaVu Sans", "Liberation Sans", sans-serif';
const coefFont = 'bold 23px "Liberation Sans", Arial, sans-serif';

function makePanel(row, col) {
  const xa = axes[col];
  const ya = axes[row + 1];
  const pts = panelData[row][col];
  const firstCol = col === 0;
  const lastRow = row === 5;
  const mL = firstCol ? colLeft[0] : 4;
  const mT = 8;
  const mR = 24;
  const mB = lastRow ? 118 : 4;

  const canvas = document.createElement('canvas');
  canvas.width = panelSize + mL + mR;
  canvas.height = panelSize + mT + mB;
  canvas.style.left = (colLeft[col] - mL) + 'px';
  canvas.style.top = (rowTop[row] - mT) + 'px';
  canvas.style.width = canvas.width + 'px';
  canvas.style.height = canvas.height + 'px';
  document.getElementById('wrap').appendChild(canvas);

  const coef = coefRows[row][col];
  const xTwoLine = Array.isArray(xa.title);

  const framePlugin = {
    id: 'frame' + row + col,
    afterDraw(chart) {
      const { ctx, chartArea: a, scales: { x, y } } = chart;
      ctx.save();
      ctx.strokeStyle = '#000';
      ctx.lineWidth = 3;
      ctx.beginPath();
      xa.ticks.forEach(v => {
        const px = x.getPixelForValue(v);
        ctx.moveTo(px, a.bottom); ctx.lineTo(px, a.bottom - 6);
        ctx.moveTo(px, a.top); ctx.lineTo(px, a.top + 6);
      });
      ya.ticks.forEach(v => {
        const py = y.getPixelForValue(v);
        ctx.moveTo(a.left, py); ctx.lineTo(a.left + 6, py);
        ctx.moveTo(a.right, py); ctx.lineTo(a.right - 6, py);
      });
      ctx.stroke();
      // fine minor-tick texture just inside the frame
      ctx.lineWidth = 1.2;
      ctx.setLineDash([1.5, 2.5]);
      ctx.strokeRect(a.left + 3, a.top + 3, a.right - a.left - 6, a.bottom - a.top - 6);
      ctx.setLineDash([]);
      ctx.lineWidth = 3.2;
      ctx.strokeRect(a.left, a.top, a.right - a.left, a.bottom - a.top);
      // correlation coefficient
      ctx.fillStyle = '#0000ff';
      ctx.font = coefFont;
      ctx.textAlign = 'right';
      ctx.textBaseline = 'alphabetic';
      ctx.fillText(coef, a.right - 10, a.top + 30);
      ctx.restore();
    }
  };

  new Chart(canvas, {
    type: 'scatter',
    data: {
      datasets: [{
        data: pts.map(p => ({ x: p[0], y: p[1] })),
        pointBackgroundColor: pts.map(p => vkColor(p.length > 2 ? p[2] : p[0])),
        pointBorderWidth: 0,
        pointBorderColor: 'rgba(0,0,0,0)',
        pointRadius: 5.3,
        pointHoverRadius: 5.3
      }]
    },
    options: {
      responsive: false,
      animation: false,
      devicePixelRatio: 1,
      events: [],
      layout: { padding: { top: mT, right: mR, left: 0, bottom: 0 } },
      plugins: { legend: { display: false }, tooltip: { enabled: false } },
      scales: {
        x: {
          type: 'linear',
          position: 'bottom',
          min: xa.min,
          max: xa.max,
          grid: { display: false, drawTicks: false },
          border: { display: false },
          ticks: {
            display: lastRow,
            autoSkip: false,
            color: '#000',
            padding: 18,
            maxRotation: 0,
            font: { family: font, size: 27, lineHeight: 1.2 },
            callback: v => minus(v)
          },
          title: {
            display: lastRow,
            text: xa.title,
            color: '#000',
            font: { family: font, size: 26, lineHeight: 1.15 },
            padding: { top: 0, bottom: xTwoLine ? 5 : 35 }
          },
          afterBuildTicks: s => { s.ticks = xa.xLabels.map(v => ({ value: v })); },
          afterFit: s => { s.height = mB; s.paddingLeft = 0; s.paddingRight = 0; }
        },
        y: {
          type: 'linear',
          position: 'left',
          min: ya.min,
          max: ya.max,
          grid: { display: false, drawTicks: false },
          border: { display: false },
          ticks: {
            display: firstCol,
            autoSkip: false,
            color: '#000',
            padding: 10,
            font: { family: font, size: 27, lineHeight: 1.2 },
            callback: v => minus(v)
          },
          title: {
            display: firstCol,
            text: ya.title,
            color: '#000',
            font: { family: font, size: 26, lineHeight: 1.27 },
            padding: { top: ya.yPad, bottom: 0 }
          },
          afterBuildTicks: s => { s.ticks = ya.yLabels.map(v => ({ value: v })); },
          afterFit: s => { s.width = mL; s.paddingTop = 0; s.paddingBottom = 0; }
        }
      }
    },
    plugins: [framePlugin]
  });
}

for (let r = 0; r < 6; r++) {
  for (let c = 0; c <= r; c++) {
    makePanel(r, c);
  }
}
</script>
</body>
</html>
